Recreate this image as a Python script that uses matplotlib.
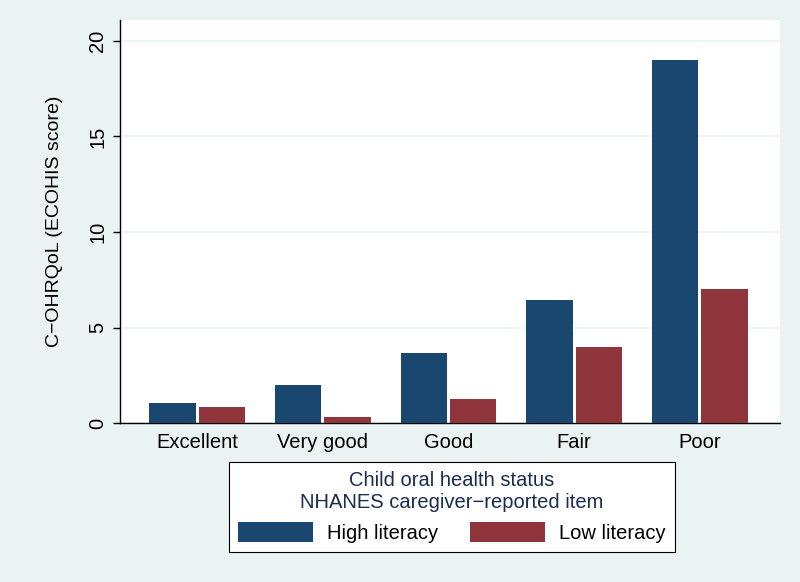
import matplotlib
matplotlib.use("Agg")
import matplotlib.pyplot as plt
import numpy as np

categories = ["Excellent", "Very good", "Good", "Fair", "Poor"]
high_literacy = [1.05, 2.0, 3.66, 6.44, 19.0]
low_literacy = [0.84, 0.33, 1.26, 4.0, 7.0]
yticks = [0, 5, 10, 15, 20]

plt.rcParams['font.family'] = ['Liberation Sans', 'DejaVu Sans']

bg = "#eaf2f3"
c_high = "#1a476f"
c_low = "#90353b"
fs = 14.5

fig = plt.figure(figsize=(8, 5.82), dpi=100, facecolor=bg)
ax = fig.add_axes([0.15, 0.273, 0.825, 0.693])
ax.set_facecolor("white")

x = np.arange(len(categories))
w = 0.37
gap = 0.012
ax.bar(x - w/2 - gap, high_literacy, width=w, color=c_high, label="High literacy", zorder=3)
ax.bar(x + w/2 + gap, low_literacy, width=w, color=c_low, label="Low literacy", zorder=3)

ax.set_xlim(-0.616, 4.64)
ax.set_ylim(0, 21.1)
ax.set_yticks(yticks)
ax.set_yticklabels([str(t) for t in yticks], rotation=90, va="center", fontsize=fs)
ax.set_xticks(x)
ax.set_xticklabels(categories, fontsize=fs)
ax.tick_params(axis="x", length=0, pad=7)
ax.tick_params(axis="y", length=5, width=1, pad=4)
ax.yaxis.grid(True, color="#eaf2f3", linewidth=1.2, zorder=0)
for s in ["top", "right"]:
    ax.spines[s].set_visible(False)
ax.spines["left"].set_linewidth(1)
ax.spines["bottom"].set_linewidth(1)
ax.set_ylabel("C\u2212OHRQoL (ECOHIS score)", fontsize=14, labelpad=18)

leg = fig.legend(loc="center", bbox_to_anchor=(0.565, 0.129), ncol=2,
                 title="Child oral health status\nNHANES caregiver\u2212reported item",
                 fontsize=fs, title_fontsize=fs, frameon=True, fancybox=False,
                 edgecolor="black", facecolor="white", framealpha=1,
                 handlelength=3.7, handleheight=1.1,
                 columnspacing=1.6, borderpad=0.45, handletextpad=0.7, borderaxespad=0)
leg.get_frame().set_linewidth(0.8)
leg.get_title().set_color("#1a2d4f")
leg.get_title().set_multialignment("center")

fig.savefig("out.png", dpi=100, facecolor=bg)
